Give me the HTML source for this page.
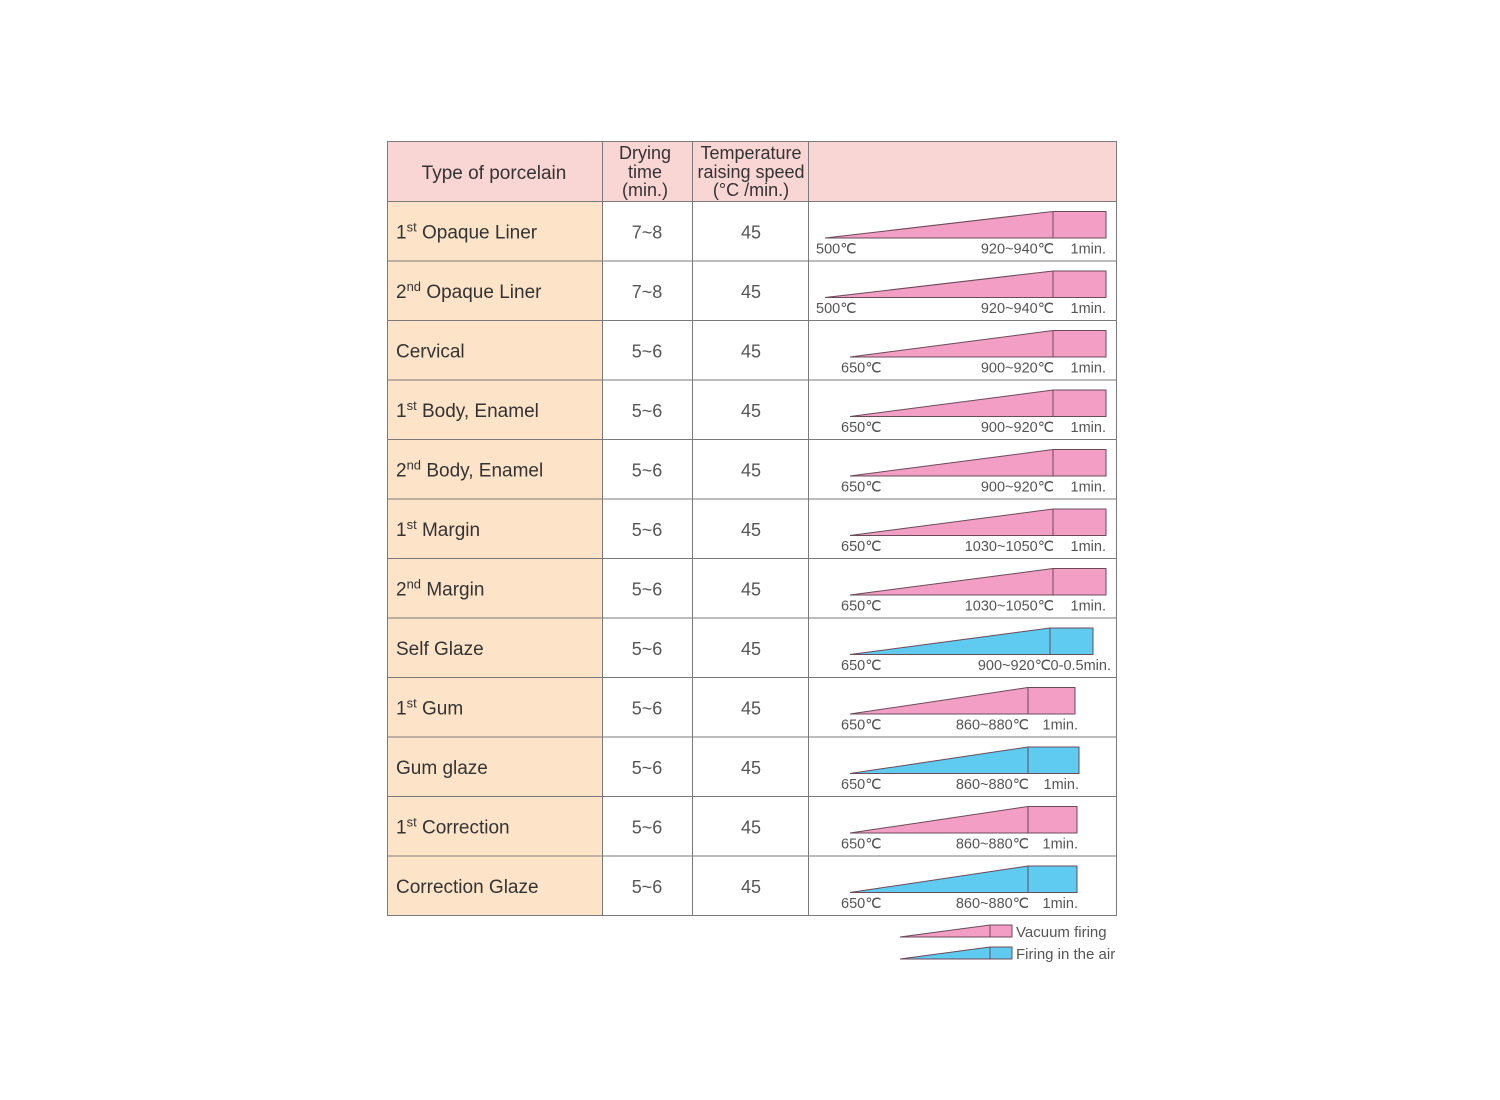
<!DOCTYPE html>
<html><head><meta charset="utf-8"><style>
body{margin:0;background:#fff;}
svg{display:block;font-family:"Liberation Sans",sans-serif;}
</style></head><body>
<svg id="chart" width="1500" height="1100" viewBox="0 0 1500 1100">
<rect x="387.5" y="141.5" width="729" height="60" fill="#f9d5d3"/>
<text x="494" y="179" font-size="19" text-anchor="middle" fill="#333">Type of porcelain</text>
<g font-size="18" text-anchor="middle" fill="#333">
<text x="645" y="159">Drying</text><text x="645" y="178">time</text><text x="645" y="196">(min.)</text></g>
<g font-size="18" text-anchor="middle" fill="#333">
<text x="751" y="159">Temperature</text><text x="751" y="178">raising speed</text><text x="751" y="196">(°C /min.)</text></g>
<g id="rows"></g>
<g id="legend"></g>
</svg>
<script>
const names=["1|st|Opaque Liner","2|nd|Opaque Liner","||Cervical","1|st|Body, Enamel","2|nd|Body, Enamel","1|st|Margin","2|nd|Margin","||Self Glaze","1|st|Gum","||Gum glaze","1|st|Correction","||Correction Glaze"];
const drying=["7~8","7~8","5~6","5~6","5~6","5~6","5~6","5~6","5~6","5~6","5~6","5~6"];
const speed=[45,45,45,45,45,45,45,45,45,45,45,45];
const startTemp=["500℃","500℃","650℃","650℃","650℃","650℃","650℃","650℃","650℃","650℃","650℃","650℃"];
const peakTemp=["920~940℃","920~940℃","900~920℃","900~920℃","900~920℃","1030~1050℃","1030~1050℃","900~920℃","860~880℃","860~880℃","860~880℃","860~880℃"];
const holdTime=["1min.","1min.","1min.","1min.","1min.","1min.","1min.","0-0.5min.","1min.","1min.","1min.","1min."];
const mode=["vacuum","vacuum","vacuum","vacuum","vacuum","vacuum","vacuum","air","vacuum","air","vacuum","air"];
// ramp geometry (start, plateau start, plateau end) in chart-cell px units
const rampStart=[17,17,42,42,42,42,42,42,42,42,42,42];
const rampPeak=[245,245,245,245,245,245,245,242,220,220,220,220];
const rampEnd=[298,298,298,298,298,298,298,285,267,271,269,269];
const NS="http://www.w3.org/2000/svg";
const colors={vacuum:"#f29ec5",air:"#5fcbf0"};
const cellX=808, rowTop=201.5, rowH=59.5;
const g=document.getElementById('rows');
function mk(tag,attrs,parent,txt){const e=document.createElementNS(NS,tag);for(const k in attrs)e.setAttribute(k,attrs[k]);if(txt!=null)e.textContent=txt;parent.appendChild(e);return e;}
names.forEach((n,i)=>{
  const y=rowTop+i*rowH;
  const row=mk('g',{},g);
  
  
  const c1=mk('rect',{x:387.5,y:y,width:215,height:rowH,fill:'#fde4c9'},row);
  
  
  const p=n.split('|');
  const t=mk('text',{x:396,y:y+37,'font-size':19,fill:'#333'},row);
  
  
  if(p[0]){mk('tspan',{},t,p[0]);mk('tspan',{'font-size':13,dy:-7},t,p[1]);mk('tspan',{dy:7},t,' '+p[2]);}else{t.textContent=p[2];}
  const d=mk('text',{x:647,y:y+37,'font-size':18,fill:'#555','text-anchor':'middle'},row,drying[i]);
  
  
  const s=mk('text',{x:751,y:y+37,'font-size':18,fill:'#555','text-anchor':'middle'},row,speed[i]);
  
  
  const top=y+10, bot=y+36.5;
  const x0=cellX+rampStart[i], x1=cellX+rampPeak[i], x2=cellX+rampEnd[i];
  const poly=mk('polygon',{points:`${x0},${bot} ${x1},${top} ${x2},${top} ${x2},${bot}`,fill:colors[mode[i]],stroke:'#6b4a5a','stroke-width':1},row);
  
  
  const ln=mk('line',{x1:x1,y1:top,x2:x1,y2:bot,stroke:'#6b4a5a','stroke-width':1},row);
  
  
  const a=mk('text',{x:x0-9,y:y+52,'font-size':14.5,fill:'#555'},row,startTemp[i]);
  
  
  const b=mk('text',{x:x1+1,y:y+52,'font-size':14.5,fill:'#555','text-anchor':'end'},row,peakTemp[i]);
  
  
  const h=mk('text',{x:Math.max(x2,x1+(holdTime[i].length>6?61:50)),y:y+52,'font-size':14.5,fill:'#555','text-anchor':'end'},row,holdTime[i]);
  
  
});
// grid lines
const grid=mk('g',{stroke:'#7a7a7a','stroke-width':1,fill:'none'},g);


const bottom=rowTop+names.length*rowH;
mk('rect',{x:387.5,y:141.5,width:729,height:bottom-141.5},grid);
[602.5,692.5,808.5].forEach(x=>mk('line',{x1:x,y1:141.5,x2:x,y2:bottom},grid));
for(let i=0;i<names.length;i++){const y=rowTop+i*rowH;mk('line',{x1:387.5,y1:y,x2:1116.5,y2:y},grid);}
// legend
const lg=document.getElementById('legend');
[["vacuum","Vacuum firing",925],["air","Firing in the air",947]].forEach(([m,lab,y])=>{
  const pl=mk('polygon',{points:`900,${y+12} 990,${y} 1012,${y} 1012,${y+12}`,fill:colors[m],stroke:'#6b4a5a','stroke-width':1},lg);
  
  
  mk('line',{x1:990,y1:y,x2:990,y2:y+12,stroke:'#6b4a5a'},lg);
  const tx=mk('text',{x:1016,y:y+12,'font-size':15,fill:'#555'},lg,lab);
  
  
});
</script>
</body></html>
